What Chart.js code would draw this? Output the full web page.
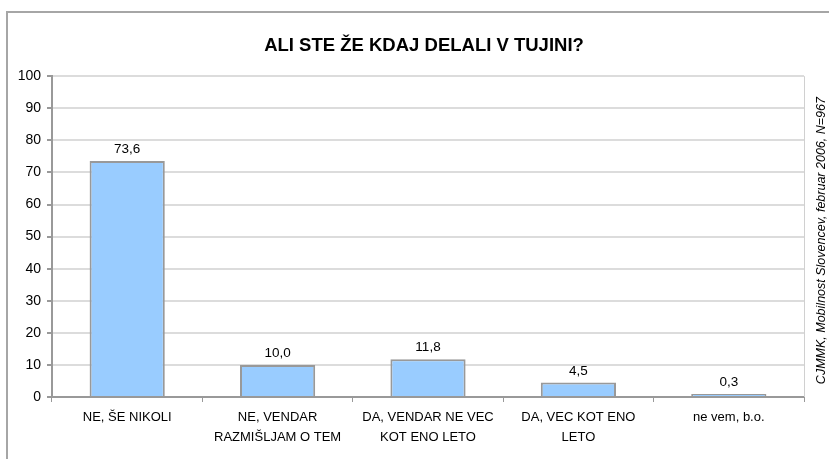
<!DOCTYPE html>
<html lang="sl">

<head>
    <meta charset="UTF-8">
    <title>Ali ste že kdaj delali v tujini?</title>
    <style>
        body {
            margin: 0;
            background: #fff;
        }

        .okvir {
            position: relative;
            width: 829px;
            height: 459px;
        }

        .rob {
            position: absolute;
            left: 6px;
            top: 11px;
            right: -10px;
            bottom: -10px;
            border-left: 2px solid #a6a6a6;
            border-top: 2px solid #a6a6a6;
        }
    </style>
</head>

<body>
    <div class="okvir">
        <div class="rob"></div>
        <canvas id="graf"></canvas>
    </div>

    <script src="https://cdn.jsdelivr.net/npm/chart.js"></script>
    <script>
        const kategorije = [
            ['NE, ŠE NIKOLI'],
            ['NE, VENDAR', 'RAZMIŠLJAM O TEM'],
            ['DA, VENDAR NE VEC', 'KOT ENO LETO'],
            ['DA, VEC KOT ENO', 'LETO'],
            ['ne vem, b.o.']
        ];
        const odstotki = [73.6, 10.0, 11.8, 4.5, 0.3];
        const yOznake = [0, 10, 20, 30, 40, 50, 60, 70, 80, 90, 100];

        const naslov = 'ALI STE ŽE KDAJ DELALI V TUJINI?';
        const vir = 'CJMMK, Mobilnost Slovencev, februar 2006, N=967';

        const pisava = '"Liberation Sans", Arial, sans-serif';

        // naslov (na sredini okvirja), vrednosti nad stolpci, vir ob desnem robu
        const oznakePlugin = {
            id: 'oznake',
            afterDatasetsDraw(chart) {
                const ctx = chart.ctx;
                const meta = chart.getDatasetMeta(0);
                const t = chart.titleBlock;
                ctx.save();
                ctx.fillStyle = '#000';
                ctx.textAlign = 'center';
                ctx.textBaseline = 'middle';
                ctx.font = 'bold 18.5px ' + pisava;
                ctx.fillText(naslov, 424, t.top + 35 + 11);

                ctx.font = '13.5px ' + pisava;
                ctx.textBaseline = 'bottom';
                meta.data.forEach((bar, i) => {
                    const txt = odstotki[i].toFixed(1).replace('.', ',');
                    ctx.fillText(txt, bar.x, bar.y - 5);
                });

                const a = chart.chartArea;
                ctx.strokeStyle = '#d0d0d0';
                ctx.lineWidth = 1;
                ctx.beginPath();
                ctx.moveTo(a.right + 0.5, a.top);
                ctx.lineTo(a.right + 0.5, a.bottom);
                ctx.stroke();

                ctx.translate(a.right + 18, (a.top + a.bottom) / 2 + 4);
                ctx.rotate(-Math.PI / 2);
                ctx.font = 'italic 12.5px ' + pisava;
                ctx.textBaseline = 'middle';
                ctx.fillText(vir, 0, 0);
                ctx.restore();
            }
        };

        new Chart(document.getElementById('graf'), {
            type: 'bar',
            data: {
                labels: kategorije,
                datasets: [{
                    data: odstotki,
                    backgroundColor: '#99ccff',
                    borderColor: '#999999',
                    borderWidth: 2,
                    minBarLength: 3,
                    barPercentage: 0.5,
                    categoryPercentage: 1
                }]
            },
            options: {
                responsive: true,
                maintainAspectRatio: false,
                animation: false,
                layout: {
                    padding: { left: 0, right: 25, top: 0, bottom: 0 }
                },
                plugins: {
                    legend: { display: false },
                    tooltip: { enabled: false },
                    // naslov samo za prostor, izrisan je v pluginu
                    title: {
                        display: true,
                        text: naslov,
                        color: 'rgba(0,0,0,0)',
                        font: { family: pisava, size: 18.5, weight: 'bold' },
                        padding: { top: 35, bottom: 19 }
                    }
                },
                scales: {
                    x: {
                        grid: {
                            offset: true,
                            drawOnChartArea: false,
                            drawTicks: true,
                            tickLength: 5,
                            tickColor: '#999999'
                        },
                        border: { color: '#999999', width: 2 },
                        ticks: {
                            color: '#000',
                            maxRotation: 0,
                            autoSkip: false,
                            padding: 5,
                            font: { family: pisava, size: 13, lineHeight: 1.55 }
                        },
                        afterFit(scale) { scale.height = 62; }
                    },
                    y: {
                        min: 0,
                        max: 100,
                        afterBuildTicks(scale) {
                            scale.ticks = yOznake.map(v => ({ value: v }));
                        },
                        grid: {
                            color: '#dcdcdc',
                            lineWidth: 2,
                            tickLength: 5,
                            tickColor: '#999999'
                        },
                        border: { color: '#999999', width: 2 },
                        ticks: {
                            color: '#000',
                            padding: 6,
                            font: { family: pisava, size: 14 }
                        },
                        afterFit(scale) { scale.width = 52; }
                    }
                }
            },
            plugins: [oznakePlugin]
        });
    </script>
</body>

</html>
